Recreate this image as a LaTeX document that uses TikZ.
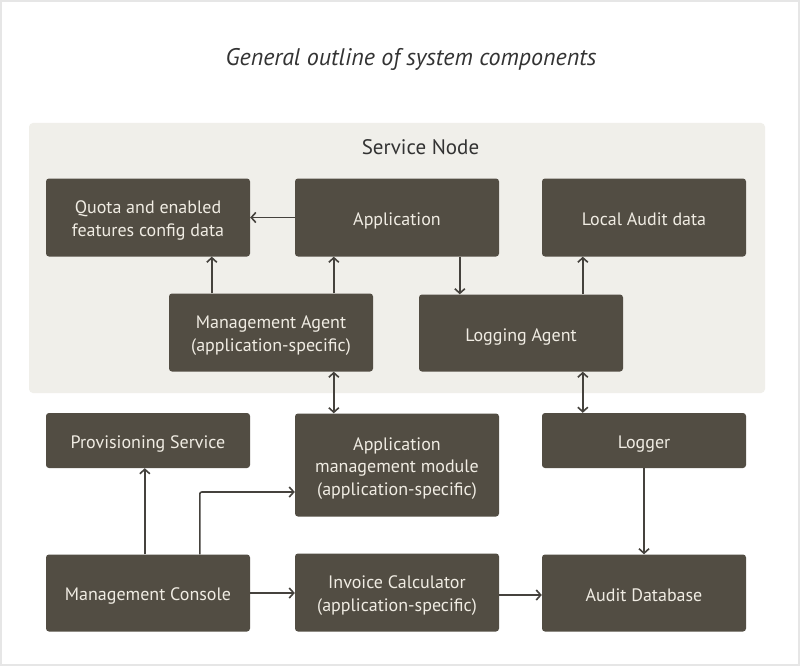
\documentclass[tikz,border=0pt]{standalone}
\usepackage{fontspec}
\setmainfont{PT Sans}
\usetikzlibrary{arrows.meta,calc}
\definecolor{boxfill}{HTML}{524D43}
\definecolor{boxtext}{HTML}{F0ECE3}
\definecolor{panel}{HTML}{F0EFEA}
\definecolor{arrowc}{HTML}{45423D}
\definecolor{titlec}{HTML}{333333}
\definecolor{framec}{HTML}{E6E6E6}
% text block whose box runs from the first cap top to the last baseline
\newcommand\btxt[2]{\raisebox{0pt}[#1][0pt]{\begin{tabular}[b]{@{}c@{}}#2\end{tabular}}}
\tikzset{
  comp/.style={draw=none, fill=boxfill, rounded corners=3pt, text=boxtext,
    minimum width=204pt, align=center, font=\fontsize{18}{22.5}\selectfont, inner sep=0pt},
  arr/.style={draw=arrowc, line width=1.6pt, -{Straight Barb[length=4.5pt,width=10pt]}},
  biarr/.style={draw=arrowc, line width=1.6pt, {Straight Barb[length=4.5pt,width=10pt]}-{Straight Barb[length=4.5pt,width=10pt]}}
}
\begin{document}
\begin{tikzpicture}[x=1pt,y=-1pt]
\useasboundingbox (0,0) rectangle (800,666);
\fill[white] (0,0) rectangle (800,666);
\draw[framec, line width=1.5pt] (1,1) rectangle (799,665);
\node[font=\itshape\fontsize{24}{28}\selectfont, text=titlec, anchor=base, inner sep=0pt] (title) at (411,65.7) {General outline of system components};
\fill[panel, rounded corners=4pt] (29,123) rectangle (765,393);
\node[font=\fontsize{21}{25}\selectfont, text=titlec, anchor=base, inner sep=0pt] (sn) at (420.5,154.3) {Service Node};
% boxes
\node[comp, minimum height=78pt] (quota) at (148,217.5) {\btxt{37.6pt}{Quota and enabled\\features config data}};
\node[comp, minimum height=78pt] (app) at (397,217.5) {\btxt{16.2pt}{Application}};
\node[comp, minimum height=78pt] (local) at (644,217.5) {\btxt{16.2pt}{Local Audit data}};
\node[comp, minimum height=78pt] (magent) at (271,332.5) {\btxt{37.6pt}{Management Agent\\(application-specific)}};
\node[comp, minimum height=77pt] (lagent) at (521,333) {\btxt{16.2pt}{Logging Agent}};
\node[comp, minimum height=55pt] (prov) at (148,440.5) {\btxt{15.6pt}{Provisioning Service}};
\node[comp, minimum height=103pt] (amm) at (397,465) {\btxt{60.1pt}{Application\\management module\\(application-specific)}};
\node[comp, minimum height=55pt] (logger) at (644,440.5) {\btxt{15.6pt}{Logger}};
\node[comp, minimum height=77pt] (mcons) at (148,593) {\btxt{15.6pt}{Management Console}};
\node[comp, minimum height=78pt] (inv) at (397,592.5) {\btxt{37.6pt}{Invoice Calculator\\(application-specific)}};
\node[comp, minimum height=77pt] (adb) at (644,593) {\btxt{16.2pt}{Audit Database}};
% helper coordinates
\coordinate (c1) at ([xshift=43pt]magent.north west);
\coordinate (c2) at ([xshift=165pt]magent.north west);
\coordinate (c3) at ([xshift=165pt]app.south west);
\coordinate (c4) at ([xshift=164pt]lagent.north west);
\coordinate (c5) at ([xshift=165pt]magent.south west);
\coordinate (c6) at ([xshift=164pt]lagent.south west);
\coordinate (c7) at ([xshift=99pt]mcons.north west);
\coordinate (c8) at ([xshift=154pt]mcons.north west);
\coordinate (c9) at ([yshift=-27pt]amm.west);
\coordinate (c10) at ([yshift=-2.5pt]inv.east);
% connectors
\draw[arr] (app.west) -- (quota.east);
\draw[arr] (c1) -- (c1 |- quota.south);
\draw[arr] (c2) -- (c2 |- app.south);
\draw[arr] (c3) -- (c3 |- lagent.north);
\draw[arr] (c4) -- (c4 |- local.south);
\draw[biarr] (c5) -- (c5 |- amm.north);
\draw[biarr] (c6) -- (c6 |- logger.north);
\draw[arr] (c7) -- (c7 |- prov.south);
\draw[arr, rounded corners=2pt] (c8) |- (c9);
\draw[arr] (mcons.east) -- (mcons.east -| inv.west);
\draw[arr] (c10) -- (c10 -| adb.west);
\draw[arr] (logger.south) -- (adb.north);
\end{tikzpicture}
\end{document}
